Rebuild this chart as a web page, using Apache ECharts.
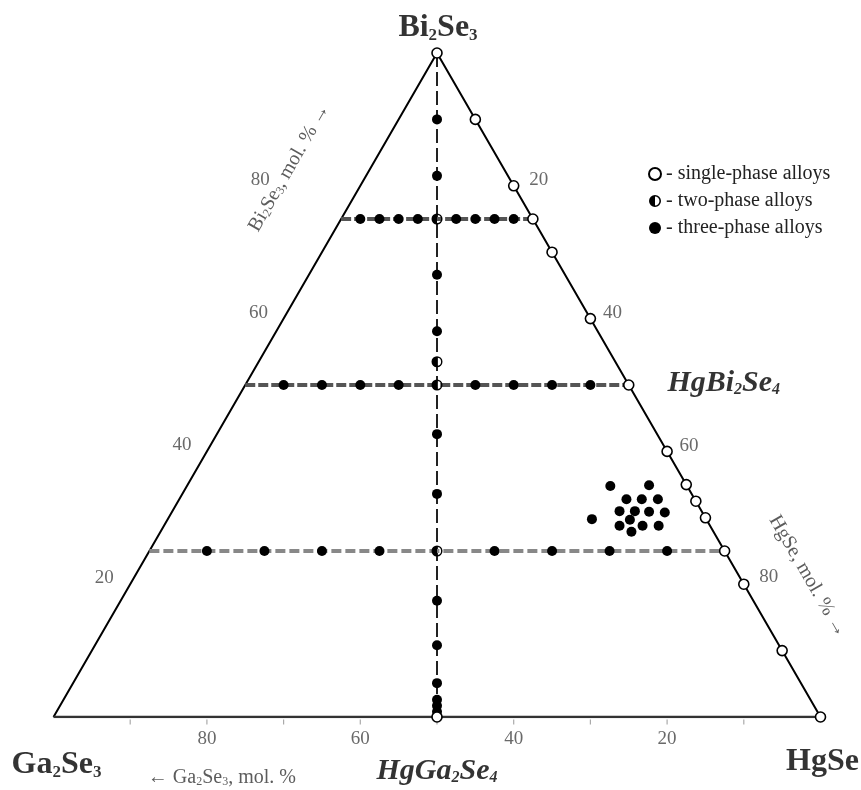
<!DOCTYPE html>
<html><head><meta charset="utf-8">
<script src="https://cdn.jsdelivr.net/npm/echarts/dist/echarts.min.js"></script>
<style>html,body{margin:0;padding:0;background:#fff}#c{width:861px;height:790px}</style>
</head><body><div id="c"></div>
<script>
// Compositions are given as [Bi2Se3 mol.%, HgSe mol.%]; Ga2Se3 = 100 - both.
const tickValues = [20, 40, 60, 80];
const minorTicks = [10, 20, 30, 40, 50, 60, 70, 80, 90];
const singlePhase = [[100,0],[90,10],[80,20],[75,25],[70,30],[60,40],[50,50],[40,60],[35,65],[32.5,67.5],[30,70],[25,75],[20,80],[10,90],[0,100],[0,50]];
const twoPhase = [[75,12.5],[53.5,23.25],[50,25],[25,37.5]];
const sectionBi = [90,81.5,66.6,58.1,42.6,33.6,17.5,10.8,5.1,2.6,1.7,0.8]; // Bi2Se3 % on HgGa2Se4–Bi2Se3 section
const row75HgSe = [2.5,5,7.5,10,15,17.5,20,22.5];
const row50HgSe = [5,10,15,20,30,35,40,45];
const row25HgSe = [7.5,15,22.5,30,45,52.5,60,67.5];
const clusterPts = [[34.8,55.2],[34.9,60.2],[32.8,58.3],[32.8,60.3],[32.8,62.4],[31.0,58.3],[31.0,60.3],[30.9,62.2],[30.8,64.3],[29.7,60.3],[28.8,59.4],[28.8,62.4],[28.8,64.5],[27.9,61.4],[29.8,55.3]];

const tern = (bi, hg) => [hg + bi / 2, bi];
const SERIF = "'Liberation Serif','DejaVu Serif',serif";
const names = ['- single-phase alloys', '- two-phase alloys', '- three-phase alloys'];
const halfPath = 'path://M10 0A10 10 0 1 1 10 20A10 10 0 1 1 10 0ZM10 2.6A7.4 7.4 0 1 0 10 17.4A7.4 7.4 0 1 0 10 2.6ZM10 17.4A7.4 7.4 0 0 1 10 2.6Z';

const lineS = (pts, style) => ({type:'line', data: pts, showSymbol:false, silent:true, animation:false, lineStyle: style, z:1});
const threeSection = sectionBi.map(b => tern(b, (100 - b) / 2));
const rowPts = (bi, arr) => arr.map(h => tern(bi, h));

const lbl = (pts, fmt, offsets) => ({
  type:'scatter', silent:true, symbolSize:0, animation:false, z:5,
  data: pts.map((p, i) => ({value: p, name: fmt[i], label:{offset: offsets[i]}})),
  label: {show:true, position:'inside', formatter: '{b}', fontFamily: SERIF, fontSize: 19, color:'#444'}
});

const vertexRich = {
  v: {fontFamily: SERIF, fontSize: 32, fontWeight:'bold', color:'#000'},
  vs: {fontFamily: SERIF, fontSize: 17, fontWeight:'bold', color:'#000', verticalAlign:'bottom'},
  i: {fontFamily: SERIF, fontSize: 30, fontWeight:'bold', fontStyle:'italic', color:'#000'},
  is: {fontFamily: SERIF, fontSize: 16, fontWeight:'bold', fontStyle:'italic', color:'#000', verticalAlign:'bottom'},
  t: {fontFamily: SERIF, fontSize: 20, color:'#333'},
  ts: {fontFamily: SERIF, fontSize: 12, color:'#333', verticalAlign:'bottom'}
};
// screen offset (dx,dy) -> label-local offset for a label rotated by deg
const rotOff = (dx, dy, deg) => {
  const t = deg * Math.PI / 180, c = Math.cos(t), s = Math.sin(t);
  return [dx * c - dy * s, dx * s + dy * c];
};
const vLabel = (p, text, offset, rotate) => ({
  type:'scatter', silent:true, symbolSize:0, animation:false, z:5,
  data:[{value: p}],
  label:{show:true, position:'inside', formatter: text, rotate: rotate || 0,
    offset: rotate ? rotOff(offset[0], offset[1], rotate) : offset, rich: vertexRich}
});

const chart = echarts.init(document.getElementById('c'));
chart.setOption({
  backgroundColor:'#fff',
  animation:false,
  grid:{left:53.5, top:53, width:767, height:664},
  xAxis:{type:'value', min:0, max:100, show:false},
  yAxis:{type:'value', min:0, max:100, show:false},
  legend:{
    orient:'vertical', left:643, top:159, itemWidth:12, itemHeight:12, itemGap:7,
    data: names, selectedMode:false,
    textStyle:{fontFamily: SERIF, fontSize:20, color:'#222'}
  },
  series:[
    lineS([tern(0,0), tern(100,0), tern(0,100)], {color:'#000', width:2}),
    lineS([tern(0,0), tern(0,100)], {color:'#333', width:2.5}),
    lineS([tern(100,0), tern(0,50)], {color:'#222', width:2, type:[14,5]}),
    lineS([tern(75,0), tern(75,25)], {color:'#555', width:4, type:[10,3]}),
    lineS([tern(50,0), tern(50,50)], {color:'#555', width:4, type:[10,3]}),
    lineS([tern(25,0), tern(25,75)], {color:'#888', width:4, type:[10,4]}),
    {type:'scatter', name:names[2], silent:true, animation:false, z:3, symbol:'circle', symbolSize:10,
      itemStyle:{color:'#000', opacity:1},
      data: threeSection.concat(rowPts(75,row75HgSe), rowPts(50,row50HgSe), rowPts(25,row25HgSe), clusterPts.map(p=>tern(p[0],p[1])))},
    {type:'scatter', name:names[0], silent:true, animation:false, z:4, symbol:'circle', symbolSize:10,
      itemStyle:{color:'#fff', borderColor:'#000', borderWidth:1.6, opacity:1},
      data: singlePhase.map(p=>tern(p[0],p[1]))},
    {type:'scatter', name:names[1], silent:true, animation:false, z:4, symbol:halfPath, symbolSize:11,
      itemStyle:{color:'#000', opacity:1},
      data: twoPhase.map(p=>tern(p[0],p[1]))},
    // minor ticks on bottom edge
    {type:'scatter', silent:true, animation:false, z:2, symbol:'rect', symbolSize:[1.2,5], symbolOffset:[0,5],
      itemStyle:{color:'#aaa', opacity:1}, data: minorTicks.map(h=>tern(0,h))},
    // tick labels
    lbl(tickValues.map(v=>tern(0,100-v)), tickValues.map(String), [[0,22],[0,22],[0,22],[0,22]]),
    lbl(tickValues.map(v=>tern(v,0)), tickValues.map(String), [[-26,-6],[-25,-6],[-25,-6],[-100,-6]]),
    lbl(tickValues.map(v=>tern(100-v,v)), tickValues.map(String), [[25,-6],[22,-6],[22,-5],[25,-7]]),
    vLabel(tern(100,0), '{v|Bi}{vs|2}{v|Se}{vs|3}', [1,-25]),
    vLabel(tern(0,0), '{v|Ga}{vs|2}{v|Se}{vs|3}', [3,48]),
    vLabel(tern(0,100), '{v|HgSe}', [2,45]),
    vLabel(tern(0,50), '{i|HgGa}{is|2}{i|Se}{is|4}', [0,54]),
    vLabel(tern(50,50), '{i|HgBi}{is|2}{i|Se}{is|4}', [95,-2]),
    vLabel(tern(80,0), '{t|Bi}{ts|2}{t|Se}{ts|3}{t|, mol. % →}', [-71,-18], 60),
    vLabel(tern(20,80), '{t|HgSe, mol. % →}', [64,-8], -60),
    vLabel(tern(0,20), '{t|← Ga}{ts|2}{t|Se}{ts|3}{t|, mol. %}', [15,61])
  ]
});
</script></body></html>
